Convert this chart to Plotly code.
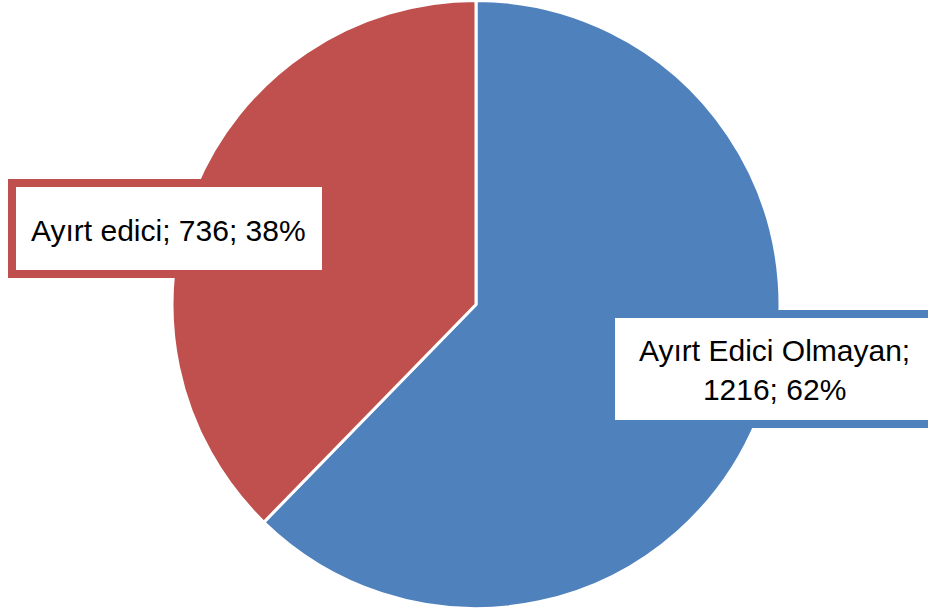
import plotly.graph_objects as go

labels = ["Ayırt Edici Olmayan", "Ayırt edici"]
values = [1216, 736]
colors = ["#4F81BD", "#C0504D"]

W, H = 928, 609
total = sum(values)
pcts = [round(v * 100 / total) for v in values]

fig = go.Figure(go.Pie(
    labels=labels, values=values, sort=False, direction="clockwise", rotation=0,
    marker=dict(colors=colors, line=dict(color="white", width=3)),
    textinfo="none", hoverinfo="label+value+percent", showlegend=False,
    domain=dict(x=[172 / W, 780 / W], y=[0, 1]),
))

def px(x):
    return x / W

def py(y):
    return 1 - y / H

# label boxes
boxes = [
    dict(x0=611, x1=945, y0=314, y1=424, color=colors[0]),
    dict(x0=12, x1=326, y0=183, y1=274, color=colors[1]),
]
for b in boxes:
    fig.add_shape(type="rect", xref="paper", yref="paper",
                  x0=px(b["x0"]), x1=px(b["x1"]), y0=py(b["y1"]), y1=py(b["y0"]),
                  line=dict(color=b["color"], width=8), fillcolor="white", layer="above")

texts = [
    f"{labels[0]};<br>{values[0]}; {pcts[0]}%",
    f"{labels[1]}; {values[1]}; {pcts[1]}%",
]
positions = [(774, 370), (168, 230)]
for t, (x, y) in zip(texts, positions):
    fig.add_annotation(text=t, x=px(x), y=py(y), xref="paper", yref="paper",
                       showarrow=False, xanchor="center", yanchor="middle",
                       font=dict(family="Liberation Sans", size=30, color="black"))

fig.update_layout(width=W, height=H, margin=dict(l=0, r=0, t=0, b=0),
                  paper_bgcolor="white", plot_bgcolor="white")
fig.write_html("out.html", config={"displayModeBar": False},
               post_script="document.body.style.margin='0';document.body.style.overflow='hidden';")
